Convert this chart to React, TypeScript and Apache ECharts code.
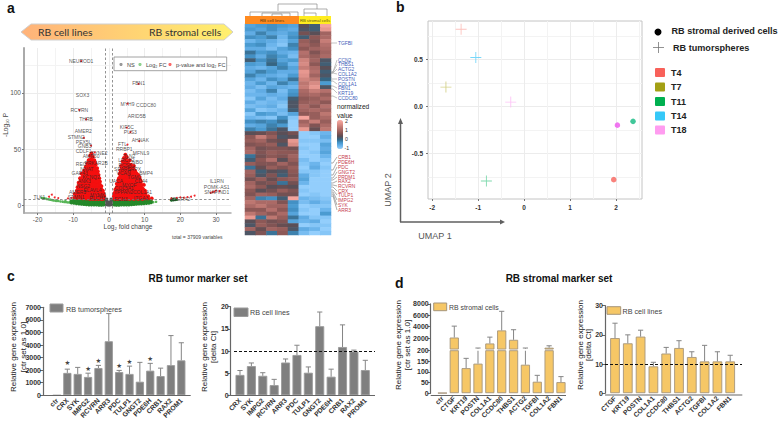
import React, { useEffect, useRef } from "react";
import * as echarts from "echarts";

const FONT = "Liberation Sans";

// ---------- panel a: volcano ----------
const redLeftColumns: [number, number[]][] = [
  [-1.3, [6, 7.5, 9]], [-1.7, [5.5, 7, 9, 11, 13]], [-2.1, [5.5, 7.5, 9.5, 12, 14, 17]],
  [-2.5, [6, 8, 10, 12.5, 15, 18, 21]], [-2.9, [5.5, 7, 9, 11, 13, 16, 19, 23, 27]],
  [-3.3, [6, 8, 10, 12, 14, 17, 20, 24, 29, 33]], [-3.7, [5.5, 7.5, 9.5, 11.5, 14, 16, 19, 22, 26, 31, 36]],
  [-4.1, [6, 8, 10, 12, 14, 17, 20, 23, 27, 30, 35, 40]], [-4.5, [5.5, 7, 9, 11, 13, 15, 18, 21, 24, 28, 33, 38, 43]],
  [-4.9, [6, 8, 10, 12, 14, 16, 19, 22, 26, 30, 35, 41, 46]], [-5.3, [5.5, 7.5, 9.5, 11.5, 14, 17, 20, 24, 28, 32, 37, 44]],
  [-5.7, [6, 8, 10, 12, 15, 18, 21, 25, 29, 34, 40]], [-6.1, [6, 7.5, 9.5, 12, 15, 18, 22, 26, 31, 37]],
  [-6.5, [6, 8, 10, 13, 16, 20, 24, 28, 34]], [-6.9, [6.5, 9, 12, 15, 18, 23, 27, 31]],
  [-7.3, [6, 8.5, 11, 14, 18, 22, 26]], [-7.7, [7, 10, 13, 17, 21, 28]], [-8.1, [6.5, 9, 12, 16, 24]],
  [-8.5, [7, 11, 15, 20]], [-9, [6.5, 9, 13]], [-9.6, [7, 10]],
];
const redLeftFill: [number, number[]][] = [
  [-1.5, [6.5, 8.5, 10.5]], [-1.9, [6.2, 8.2, 10.4, 12.6]], [-2.3, [6.8, 8.8, 11, 13.2, 15.8]], [-2.7, [6.4, 8.6, 11, 13.6, 16.5, 19.5, 24]],
  [-3.1, [6.6, 8.8, 11, 13.4, 15.6, 18, 21.5, 25.6, 30]], [-3.5, [6.4, 8.6, 10.8, 13, 15.4, 18, 21.2, 24.6, 28, 32]], [-3.9, [6.8, 8.9, 11, 13, 15.2, 17.8, 20.6, 24, 28.4, 33, 38]],
  [-4.3, [6.6, 8.8, 11, 13, 15.6, 18.4, 21.4, 25, 28.6, 32, 36.5]], [-4.7, [6.4, 8.6, 10.8, 13.2, 15.8, 18.6, 21.6, 25, 28, 31.4, 35.6, 40]], [-5.1, [6.8, 9, 11, 13.2, 15.4, 18, 21.4, 25.4, 28.4, 32, 38.6]],
  [-5.5, [6.6, 8.8, 11, 13.4, 16, 19, 22, 26, 30, 34.6, 40]], [-5.9, [6.4, 8.8, 11.2, 13.8, 16.5, 19.6, 23, 27, 31.6, 36.6]], [-6.3, [6.8, 9, 11.4, 14, 17, 20.4, 24, 28.6, 33.6]],
  [-6.7, [6.6, 9.2, 11.8, 14.6, 18, 22, 26, 30.6]], [-7.1, [7, 9.8, 12.6, 16, 20, 25, 29]], [-7.5, [6.8, 9.6, 12.4, 16, 20, 24]], [-7.9, [7.2, 10.4, 14, 18, 22.6]], [-8.3, [7, 10, 13.6, 18]], [-8.8, [7.4, 10.6, 16]],
];
const redRightColumns: [number, number[]][] = [
  [1.4, [6, 8, 10]], [1.8, [5.5, 7, 9, 12, 14]], [2.2, [6, 8, 10, 13, 16, 19]],
  [2.6, [5.5, 7.5, 10, 12, 15, 18, 22]], [3, [6, 8, 10, 13, 16, 19, 23, 28]],
  [3.4, [5.5, 7.5, 9.5, 12, 15, 18, 21, 25, 30, 35]], [3.8, [6, 8, 10, 12, 15, 18, 21, 25, 29, 34, 39]],
  [4.2, [5.5, 7, 9, 12, 14, 17, 20, 24, 28, 32, 37, 42]], [4.6, [6, 8, 10, 12, 15, 18, 21, 24, 28, 33, 38, 45]],
  [5, [5.5, 7.5, 9.5, 12, 14, 17, 20, 23, 27, 31, 36, 43]], [5.4, [6, 8, 10, 12, 15, 18, 21, 25, 29, 34, 39]],
  [5.8, [5.5, 7.5, 9.5, 12, 14, 17, 20, 24, 28, 33, 40]], [6.2, [6, 8, 10, 13, 16, 19, 23, 27, 32, 36]],
  [6.6, [6, 8, 10, 13, 16, 19, 23, 27, 31]], [7, [5.5, 8, 11, 14, 17, 20, 24, 29, 35]],
  [7.4, [6, 8.5, 11, 14, 17, 21, 26, 30]], [7.8, [6, 8.5, 11, 15, 18, 23, 28]],
  [8.2, [5.5, 8, 11, 14, 18, 22, 27]], [8.6, [6, 9, 12, 16, 20, 25]], [9, [6, 8.5, 12, 16, 21]],
  [9.4, [5.5, 8, 11, 15]], [9.8, [6, 9, 12, 18]], [10.3, [6, 8, 11]], [11, [6, 8]], [12, [6]],
];
const redRightFill: [number, number[]][] = [
  [1.6, [6.6, 8.4, 10.6]], [2, [6.4, 8.6, 11, 13.4]], [2.4, [6.8, 9, 11.4, 14, 16.8]], [2.8, [6.6, 9, 11.2, 13.8, 16.6, 20, 24]],
  [3.2, [6.4, 8.8, 11, 13.6, 16.4, 19, 22, 26, 31]], [3.6, [6.8, 9, 11, 13.4, 16, 19, 22.4, 26, 30, 33.6]], [4, [6.6, 8.8, 11, 13.2, 15.8, 18.6, 22, 25.4, 29, 33, 37]],
  [4.4, [6.4, 8.6, 11, 13.4, 16, 19, 22, 26, 29.6, 34, 39]], [4.8, [6.8, 9, 11, 13.4, 16.2, 19.4, 22.6, 26, 30, 35, 41]], [5.2, [6.6, 8.8, 11, 13.2, 16, 19, 22, 25.4, 29, 33, 38]],
  [5.6, [6.4, 8.8, 11, 13.6, 16.4, 19.6, 23, 27, 31, 36]], [6, [6.8, 9, 11, 13.4, 16, 19, 22.4, 26, 30, 34.6]], [6.4, [6.6, 9, 11.6, 14.4, 17.6, 21, 25, 29.4, 33.6]], [6.8, [6.8, 9.2, 11.8, 14.8, 18, 21.6, 25, 29, 33]],
  [7.2, [6.6, 9.6, 12.6, 15.6, 18.6, 22, 26, 31]], [7.6, [7, 9.8, 12.6, 16, 19.6, 24, 28]], [8, [6.8, 9.6, 12.6, 16, 20, 25]], [8.4, [7, 9.6, 12.6, 16, 20, 24.6]], [8.8, [7, 10, 13.6, 18, 22.6]], [9.2, [6.8, 10, 13.6, 18]], [9.6, [7, 10.6, 14]], [10.1, [7, 9.6, 13]],
];
const redSparse: number[][] = [
  [-7.8, 128.3], [-8.3, 84.8], [-6.4, 76.5], [5, 69], [6, 65], [5.2, 90.4], [8.3, 108], [-7, 60], [5.2, 54], [8.5, 57], [-5, 53], [-4, 47],
  [-10.5, 6.5], [-11.5, 6], [-14.2, 6.3], [-15.2, 7], [-16, 9.3], [-16.8, 7.5],
  [17.5, 6], [19, 6.5], [20, 7], [21, 6.6], [22, 7.2], [23, 7.5], [24, 8.5], [28.5, 11], [29, 11.5], [29.5, 12], [30, 13], [31, 12.5],
];
const greenColumns: [number, number[]][] = [
  [-10.5, [2.2, 3.5]], [-9.8, [2, 3.5, 4.8]], [-9.1, [1.6, 3, 4.5]], [-8.4, [1.4, 2.8, 4.4]], [-7.7, [1, 2.5, 4.2]],
  [-7, [0.9, 2.4, 4]], [-6.3, [0.6, 2, 3.6, 4.8]], [-5.6, [0.5, 2, 3.5, 4.8]], [-4.9, [0.4, 1.9, 3.4, 4.8]],
  [-4.2, [0.3, 1.8, 3.3, 4.8]], [-3.5, [0.3, 1.8, 3.3, 4.8]], [-2.8, [0.2, 1.7, 3.2, 4.8]], [-2.1, [0.2, 1.7, 3.2, 4.8]],
  [-1.5, [0.3, 1.8, 3.3, 4.8]], [1.5, [0.3, 1.8, 3.3, 4.8]], [2.1, [0.2, 1.7, 3.2, 4.8]], [2.8, [0.2, 1.7, 3.2, 4.8]],
  [3.5, [0.3, 1.8, 3.3, 4.8]], [4.2, [0.3, 1.8, 3.3, 4.8]], [4.9, [0.4, 1.9, 3.4, 4.8]], [5.6, [0.5, 2, 3.5, 4.8]],
  [6.3, [0.6, 2, 3.6, 4.8]], [7, [0.8, 2.3, 3.9, 4.8]], [7.7, [1, 2.5, 4.2]], [8.4, [1.2, 2.7, 4.4]], [9.1, [1.4, 2.9, 4.5]],
  [9.8, [1.6, 3, 4.6]], [10.5, [1.8, 3.2, 4.6]], [11.2, [2, 3.4, 4.6]], [11.8, [2.4, 3.8]],
];
const greenTail: number[][] = [
  [-18.8, 6.4], [-18.4, 6.2], [-18, 6], [-17.5, 5.6], [-17, 5.2], [-16.6, 5], [-16.3, 4.8], [-15.9, 4.5], [-15.5, 4.3], [-15, 3.9], [-14.6, 3.8], [-14.2, 3.7], [-13.6, 3.3],
  [-13, 3.1], [-12.5, 2.8], [-12, 2.7], [-11.5, 2.5], [-11, 2.3], [-10.8, 3.4], [-12.2, 3.6], [12.4, 2.6], [13.2, 3], [-7, 5],
];
const greenDark: number[][] = [[17.5, 4.4], [18, 4.6], [18.5, 4.9], [19, 5], [17.9, 5.2]];
const grayColumns: [number, number[]][] = [
  [-0.9, [0.8, 2.5, 4]], [-0.6, [0.4, 2, 3.6, 5.5]], [-0.3, [0.2, 1.5, 3]], [0, [0.1, 1, 2.2]],
  [0.3, [0.2, 1.5, 3]], [0.6, [0.4, 2, 3.5, 5.5]], [0.9, [0.8, 2.5, 4, 4.8]],
];
const volcanoLabels: [string, number, number][] = [
  ["NEUROD1", -7.8, 128.3], ["FBN1", 8.3, 108.6], ["SOX3", -7.4, 98], ["RCVRN", -8.3, 84.8], ["MYH9", 5.2, 90.4], ["CCDC80", 10.4, 89.6],
  ["THRB", -6.4, 76.5], ["ARID5B", 7.8, 79.5], ["AMER2", -7.2, 66], ["KIF5C", 5, 69.4], ["PUS3", 6, 65], ["STMN2", -9.2, 60.7],
  ["AHNAK", 8.8, 58], ["PEX5L", -7.1, 56], ["GNB3", -6.8, 52.7], ["FTL", 3.8, 54.5], ["RRBP1", 4.3, 49.7], ["CDLF1", -7.1, 48.2],
  ["SYNE2", -2.7, 46.7], ["AMN50", -5, 43.8], ["MFNL9", 9, 46.7], ["TLN2", 5.7, 43.8], ["LRCH2", 4.9, 40], ["NBO", 8, 38.7],
  ["PCSK1", 5, 35.7], ["REC", -7.8, 36.3], ["PRKAR2B", -3.6, 37.8], ["NNAT", -6.2, 32], ["GAP43", -8.2, 28.3], ["KCNQ2", -5, 25.3],
  ["ANK3", -6.9, 21.7], ["NSG2", -7.2, 17], ["ELAVL4", -4.6, 13.4], ["AMER3", -8.8, 11.9], ["STMN1", -9.2, 6.9], ["MYMK", -3.2, 8.9],
  ["RLCH5", -3.2, 6.3], ["SPARC", 3.8, 31.9], ["SRPX", 7.1, 31.9], ["VCAN", 4.1, 28.3], ["BMP4", 10.4, 28.3], ["TGM2", 7.1, 25.3],
  ["UACA", 2, 21.4], ["CD44", 9, 21.4], ["MYOF", 5.7, 17.9], ["COL5A1", 4.3, 14.9], ["TPPAN2", 4.1, 11.3], ["COL1A1", 9.4, 11.9],
  ["FCN3", 3.4, 5.4], ["ITGA3", 9, 6.3], ["IL1RN", 30.2, 21.4], ["POMK-AS1", 30.2, 15.8], ["SNAPIND1", 30.2, 11.3], ["ADGRA2", 19.9, 5.4], ["TLK1", -19.5, 7.4],
];

// ---------- panel a: heatmap ----------
const heatRows: number[][] = [
  [-0.5, -0.4, -0.3, -0.4, -0.5, 0.3, 0.1, 1.9], [-0.4, -0.5, -0.3, -0.5, -0.6, 0.2, 0.1, 1.7], [-0.6, -0.2, -0.5, -0.6, -0.4, 0.5, 0.3, 0.9],
  [-0.3, -0.4, -0.2, -0.7, -0.3, 0.1, 0.7, 1.0], [-0.7, -0.5, -0.6, -0.8, -0.5, 0.8, 0.6, 1.3], [-0.4, -0.3, -0.7, -0.9, -0.2, 0.9, 0.7, 1.1],
  [-0.6, -0.6, -0.8, -0.5, -0.3, 0.7, 0.9, 1.0], [-0.1, -0.4, -0.3, -0.6, -0.7, 1.1, 0.6, 0.9], [-0.3, -0.6, -0.2, -0.4, -0.8, 1.0, 0.8, 1.0],
  [0.1, -0.3, -0.1, -0.5, -0.4, 1.4, 0.9, 0.2], [-0.4, -0.5, 0, -0.3, -0.7, 1.5, 0.7, 0.1], [-0.6, -0.7, -0.5, -0.2, -0.5, 1.3, 1.0, 0.3],
  [-0.5, -0.2, -0.4, -0.6, -0.6, 1.7, 1.1, 0.1], [-0.2, -0.5, -0.6, -0.7, -0.4, 1.6, 0.9, 0.2], [-0.5, -0.7, -0.3, -0.5, -0.1, 1.4, 1.2, 0.0],
  [-0.7, -0.4, -0.7, -0.2, -0.5, 1.2, 1.5, -0.4], [-0.6, -0.8, -0.5, -0.6, -0.7, 1.3, 1.7, 0.2], [-0.8, -0.6, -0.2, -0.8, -0.4, 1.0, 1.3, 1.1],
  [-0.7, -0.7, -0.6, -0.7, -0.3, 0.9, 1.0, 0.8], [-0.9, -0.5, -0.8, -0.6, 0.1, 0.7, 0.8, 1.0], [-0.6, -0.8, -0.7, -0.8, 0.2, 0.8, 0.9, 0.7],
  [-0.8, -0.7, -0.6, -0.9, 0.2, 1.0, 0.7, 1.1], [-0.5, -0.9, -0.8, -0.7, 0.1, 0.9, 1.0, 0.9], [-0.9, -0.4, -0.5, -0.8, -0.5, 0.7, 0.8, 1.2],
  [-0.7, -0.8, -0.9, -0.3, -0.9, 1.9, 0.8, 1.0], [-0.3, -0.2, -0.3, -0.1, -1.0, 0.9, 1.3, 0.8], [-0.6, -0.5, -0.2, -0.4, -1.0, 1.1, 0.6, 1.0],
  [-0.2, -0.4, -0.1, 0.2, -1.0, 1.7, 0.4, 1.2],
  [0.3, 0.4, 0.6, 0.3, 0.5, -1, -0.9, -0.7], [0.7, 1.3, 0.8, 0.2, 0.3, -1, -1, -0.6], [0.8, 0.9, 0.5, 0.4, 1.7, -0.9, -0.9, -0.8],
  [0.6, 0.7, 0.8, 0.2, 1.5, -1, -1, -0.5], [0.9, 0.5, 0.6, 0.6, 0.5, -0.9, -1, -0.6], [1.0, 0.6, 0.8, 0.7, 0.7, -1, -0.9, -0.5],
  [-0.1, 0.5, 0.7, 0.6, 0.9, -1, -1, -0.7], [0.1, 0.7, 1.1, 0.3, 0.8, -0.8, -1, -0.9], [0.8, 0.6, 0.6, 0.9, 0.6, -0.9, -0.7, -1],
  [-0.1, 0.4, 0.8, 0.6, 0.8, -1, -0.6, -0.9], [0.9, 0.1, 0.3, 0.2, 0.7, -0.9, -0.9, -1], [0.8, 0.2, 0.6, 0.1, 0.6, -0.6, -0.9, -1],
  [0.5, 0.8, 0.4, 0.7, 0.8, -0.5, -1, -1], [0.9, 0.5, 0.6, -0.1, 0.5, -0.7, -1, -1], [1.0, 0.7, 0.3, 0.4, 0.3, -1, -1, -1],
  [0.7, 0.3, 0.5, 0.8, 0.6, -0.9, -1, -1], [0.6, 0.9, 0.8, 0.5, 0.5, -1, -0.9, -1], [0.9, -0.2, -0.3, 0.1, 1.9, -0.7, -0.8, -0.9],
  [1.2, 1.0, 1.0, 0.6, -0.3, -0.8, -0.6, -0.8], [1.0, 1.2, 0.9, 0.9, -0.4, -1, -0.9, -0.9], [0.7, 0.7, 1.1, 0.7, -0.3, -0.9, -1, -0.7],
  [1.2, 0.9, 0.7, 1.0, -0.5, -1, -1, -0.4], [1.7, -0.1, 1.2, 0.8, -0.1, -0.6, -0.9, -0.9], [0.3, 0.7, 0.5, 0.6, -0.5, -0.7, -0.6, -1],
  [0.2, 0.8, 0.6, 0.4, 0.3, -1, -0.9, -0.9], [0.9, 0.4, 0.9, 0.8, 0.2, -0.6, -0.7, -1], [0.2, 0.6, -0.1, 0.7, -0.2, -0.8, -1, -0.9],
];
const heatColors = ["#93cefc", "#68b2ea", "#4495cb", "#366582", "#5e4c52", "#8a5654", "#ab6a66", "#c97f79", "#e5968e", "#fbaaa3"];
const stromalGenes: [string, number, number][] = [
  ["TGFBI", 43, 43], ["CCN2", 60, 72], ["THBS1", 64.5, 72], ["ACTG2", 69, 73], ["COL1A2", 74, 73], ["POSTN", 79, 79],
  ["COL1A1", 84, 81], ["FBN1", 88, 86], ["KRT19", 93, 89], ["CCDC80", 98, 96],
];
const tumorGenes: [string, number, number][] = [
  ["CRB1", 157, 163], ["PDE6H", 162, 170], ["PDC", 167, 175], ["GNGT2", 172, 178], ["PRDM1", 177, 180], ["RAX2", 181, 183],
  ["RCVRN", 186, 185], ["CRX", 191, 187], ["TULP1", 195, 190], ["IMPG2", 200, 192], ["SYK", 205, 194], ["ARR3", 210, 196],
];
const dendroLines: number[][][] = [
  [[278, 11], [278, 4], [317, 4], [317, 9]],
  [[250, 16], [250, 12], [298, 12], [298, 16]],
  [[262, 16], [262, 13], [290, 13], [290, 16]],
  [[272, 16], [272, 14], [282, 14], [282, 16]],
  [[304, 16], [304, 9], [327, 9], [327, 16]],
  [[304, 13], [316, 13], [316, 16]],
];

// ---------- panel b: UMAP ----------
const sampleNames = ["T4", "T7", "T11", "T14", "T18"];
const sampleColors = ["#f8615a", "#a3a015", "#00b050", "#35c8f8", "#ff9cf0"];
const crossColors = ["#fbb3ad", "#c9c76e", "#5fd09a", "#55cdf8", "#fdb4f4"];
const tumorspherePoints: (number[])[] = [[-1.37, 0.82], [-1.7, 0.205], [-0.82, -0.795], [-1.05, 0.52], [-0.29, 0.045]];
const stromalPoints: (number[] | null)[] = [[1.95, -0.78], null, [2.37, -0.16], null, [2.03, -0.2]];

// ---------- panels c, d ----------
const tumorCatsA = ["ctr", "CRX", "SYK", "IMPG2", "RCVRN", "ARR3", "PDC", "TULP1", "GNGT2", "PDE6H", "CRB1", "RAX2", "PROM1"];
const tumorValsA = [1, 1780, 1700, 1460, 2170, 4300, 1850, 1700, 1080, 1960, 1530, 2400, 2780];
const tumorErrA = [null, 2080, 2220, 1760, 2380, 6500, 1980, 2320, 2620, 2540, 2160, 4750, 4180];
const tumorStars: [string, number][] = [["CRX", 2570], ["IMPG2", 2120], ["RCVRN", 2730], ["PDC", 2360], ["TULP1", 2650], ["PDE6H", 2910]];

const tumorCatsB = ["CRX", "SYK", "IMPG2", "RCVRN", "ARR3", "PDC", "TULP1", "GNGT2", "PDE6H", "CRB1", "RAX2", "PROM1"];
const tumorValsB = [4.6, 6.6, 4.4, 2.3, 7.4, 9.1, 5.1, 15.6, 4.2, 10.9, 9.9, 5.7];
const tumorErrB = [5.6, 7.3, 5.1, 3.6, 8.2, 11.3, 6.4, 18.8, 5.9, 15.9, 10.2, 7.9];

const stromalCatsA = ["ctr", "CTGF", "KRT19", "POSTN", "COL1A1", "CCDC80", "THBS1", "ACTG2", "TGFBI", "COL1A2", "FBN1"];
const stromalValsA = [1, 2100, 118, 139, 1060, 3350, 1700, 134, 54, 320, 52];
const stromalErrA = [null, 4100, 164, 260, 2170, 6700, 3470, 260, 84, 650, 78];

const stromalCatsB = ["CTGF", "KRT19", "POSTN", "COL1A1", "CCDC80", "THBS1", "ACTG2", "TGFBI", "COL1A2", "FBN1"];
const stromalValsB = [18.9, 17.1, 19.4, 9.2, 13.6, 15.5, 12.4, 10.9, 10.9, 10.9];
const stromalErrB = [24, 20, 21.6, 10.6, 15.7, 18, 14.2, 16.4, 14.2, 13];
const deltaCtReference = 10;
const breakValue = 200;

const GRAY_FILL = "#7f7f7f";
const GRAY_EDGE = "#9b9b9b";
const GOLD_FILL = "#f6c766";
const GOLD_EDGE = "#a6957a";

const flatten = (cols: [number, number[]][]) => cols.flatMap(([x, ys]) => ys.map((y) => [x, y]));

function txt(text: string, x: number, y: number, o: any = {}) {
  return {
    type: "text", x, y, rotation: o.rotation ?? 0, silent: true, z: o.z ?? 20,
    style: {
      text, x: 0, y: 0, fontSize: o.size ?? 7, fontFamily: o.family ?? FONT, fontWeight: o.weight ?? "normal",
      fill: o.color ?? "#222", align: o.align ?? "left", verticalAlign: "middle",
    },
  };
}
const seg = (x1: number, y1: number, x2: number, y2: number, stroke: string, lineWidth = 1, z = 20) => ({
  type: "line", silent: true, z, shape: { x1, y1, x2, y2 }, style: { stroke, lineWidth },
});
const poly = (pts: number[][], stroke: string, lineWidth = 0.7) => ({
  type: "polyline", silent: true, z: 20, shape: { points: pts }, style: { stroke, lineWidth, fill: "none" },
});
const swatch = (x: number, y: number, w: number, h: number, fill: string, stroke = "none", r = 0) => ({
  type: "rect", silent: true, z: 20, shape: { x, y, width: w, height: h, r }, style: { fill, stroke, lineWidth: 1 },
});

function errorSeries(xi: number, yi: number, cats: string[], vals: number[], errs: (number | null)[], minHi = -Infinity) {
  const rows: number[][] = [];
  cats.forEach((_, i) => {
    const e = errs[i];
    if (e !== null && e > minHi) rows.push([i, vals[i], e]);
  });
  return {
    type: "custom", xAxisIndex: xi, yAxisIndex: yi, clip: true, z: 4, silent: true, data: rows, encode: { x: 0, y: [1, 2] },
    renderItem: (_: any, api: any) => {
      const i = api.value(0);
      const lo = api.coord([i, api.value(1)]);
      const hi = api.coord([i, api.value(2)]);
      const style = { stroke: "#858585", lineWidth: 1 };
      return {
        type: "group",
        children: [
          { type: "line", shape: { x1: lo[0], y1: lo[1], x2: hi[0], y2: hi[1] }, style },
          { type: "line", shape: { x1: hi[0] - 2.6, y1: hi[1], x2: hi[0] + 2.6, y2: hi[1] }, style },
        ],
      };
    },
  };
}

function barSeries(xi: number, yi: number, vals: (number | null)[], w: number, fill: string, edge: string, extra: any = {}) {
  return {
    type: "bar", xAxisIndex: xi, yAxisIndex: yi, data: vals, barWidth: w, z: 3, silent: true,
    itemStyle: { color: fill, borderColor: edge, borderWidth: 0.9 }, ...extra,
  };
}
const refLine = (value: number, x1: number, x2: number) => ({
  silent: true, symbol: "none", animation: false, label: { show: false },
  lineStyle: { color: "#111", type: [3, 2], width: 1 },
  data: [[{ x: x1, yAxis: value }, { x: x2, yAxis: value }]],
});
const barX = (grid: number, cats: string[], show = true) => ({
  type: "category", gridIndex: grid, data: cats, show, boundaryGap: true,
  axisLine: { show: false }, axisTick: { show: false },
  axisLabel: { rotate: 45, interval: 0, margin: 4, fontSize: 6.8, fontWeight: "bold", color: "#333", fontFamily: FONT },
});
const barY = (grid: number, min: number, max: number, values: number[], offset: number) => ({
  type: "value", gridIndex: grid, min, max, offset,
  axisLine: { show: true, lineStyle: { color: "#666", width: 1.2 } },
  axisTick: { show: true, length: 3, customValues: values, lineStyle: { color: "#666", width: 1 } },
  axisLabel: {
    customValues: values, margin: 2, fontSize: 7, fontWeight: "bold", color: "#333", fontFamily: FONT,
    formatter: (v: number) => String(v),
  },
  splitLine: { show: false },
});

const volcanoMajorX = [-20, -10, 0, 10, 20, 30];
const volcanoMinorX = [-15, -5, 5, 15, 25];
const volcanoMajorY = [0, 50, 100];
const volcanoMinorY = [25, 75, 125];
const umapMajorX = [-2, -1, 0, 1, 2];
const umapMinorX = [-1.5, -0.5, 0.5, 1.5, 2.5];
const umapMajorY = [-0.5, 0, 0.5];
const umapMinorY = [-0.75, -0.25, 0.25, 0.75];

function buildOption() {
  const grids = [
    { left: 24, top: 48, width: 207, height: 165 },
    { left: 245, top: 24, width: 86, height: 211 },
    { left: 428, top: 21, width: 214, height: 178, show: true, borderColor: "#c4c4c4", borderWidth: 1, backgroundColor: "#fff" },
    { left: 51.8, top: 307.3, width: 134.7, height: 88 },
    { left: 234.3, top: 306.7, width: 136.7, height: 88.6 },
    { left: 436.5, top: 303.9, width: 130.4, height: 45.6 },
    { left: 436.5, top: 350.7, width: 130.4, height: 44.6 },
    { left: 608.6, top: 305.7, width: 128, height: 89 },
  ];
  const gLight = { show: true, lineStyle: { color: "#ececec", width: 1 } };
  const gFaint = { show: true, lineStyle: { color: "#f3f3f3", width: 1 } };
  const volcLabel = { fontSize: 6.5, color: "#555", fontFamily: FONT, margin: 3 };
  const umapLabel = { fontSize: 6.5, color: "#333", fontWeight: "bold", fontFamily: FONT, margin: 5 };
  const xAxis: any[] = [
    {
      type: "value", gridIndex: 0, min: -23.8, max: 34.2,
      axisLine: { show: true, onZero: false, lineStyle: { color: "#aaa", width: 1.5 } },
      axisTick: { show: true, length: 2, customValues: volcanoMajorX, lineStyle: { color: "#777" } },
      axisLabel: { ...volcLabel, customValues: volcanoMajorX }, splitLine: gLight,
    },
    {
      type: "value", gridIndex: 0, min: -23.8, max: 34.2, axisLine: { show: false },
      axisTick: { show: false, customValues: volcanoMinorX }, axisLabel: { show: false, customValues: volcanoMinorX }, splitLine: gFaint,
    },
    { type: "category", gridIndex: 1, data: heatRows[0].map((_, i) => "S" + i), show: false },
    {
      type: "value", gridIndex: 2, min: -2.09, max: 2.565,
      axisLine: { show: false, onZero: false },
      axisTick: { show: true, length: 2, customValues: umapMajorX, lineStyle: { color: "#777" } },
      axisLabel: { ...umapLabel, customValues: umapMajorX }, splitLine: gLight,
    },
    {
      type: "value", gridIndex: 2, min: -2.09, max: 2.565, axisLine: { show: false },
      axisTick: { show: false, customValues: umapMinorX }, axisLabel: { show: false, customValues: umapMinorX }, splitLine: gFaint,
    },
    barX(3, tumorCatsA),
    barX(4, tumorCatsB),
    barX(5, stromalCatsA, false),
    barX(6, stromalCatsA),
    barX(7, stromalCatsB),
  ];
  const yAxis: any[] = [
    {
      type: "value", gridIndex: 0, min: -7, max: 140,
      axisLine: { show: true, onZero: false, lineStyle: { color: "#aaa", width: 2 } },
      axisTick: { show: true, length: 2, customValues: volcanoMajorY, lineStyle: { color: "#777" } },
      axisLabel: { ...volcLabel, customValues: volcanoMajorY }, splitLine: gLight,
    },
    {
      type: "value", gridIndex: 0, min: -7, max: 140, axisLine: { show: false },
      axisTick: { show: false, customValues: volcanoMinorY }, axisLabel: { show: false, customValues: volcanoMinorY }, splitLine: gFaint,
    },
    { type: "category", gridIndex: 1, inverse: true, data: heatRows.map((_, i) => "G" + i), show: false },
    {
      type: "value", gridIndex: 2, min: -0.986, max: 0.908,
      axisLine: { show: false, onZero: false },
      axisTick: { show: true, length: 2, customValues: umapMajorY, lineStyle: { color: "#777" } },
      axisLabel: { ...umapLabel, customValues: umapMajorY, formatter: (v: number) => v.toFixed(1) }, splitLine: gLight,
    },
    {
      type: "value", gridIndex: 2, min: -0.986, max: 0.908, axisLine: { show: false },
      axisTick: { show: false, customValues: umapMinorY }, axisLabel: { show: false, customValues: umapMinorY }, splitLine: gFaint,
    },
    barY(3, 0, 7000, [0, 1000, 2000, 3000, 4000, 5000, 6000, 7000], 8.8),
    barY(4, 0, 20, [0, 5, 10, 15, 20], 3.6),
    barY(5, 0, 8000, [2000, 4000, 6000, 8000], 5.8),
    barY(6, 0, breakValue, [0, 50, 100, 150, 200], 5.8),
    barY(7, 0, 30, [0, 10, 20, 30], 3.6),
  ];

  const scatter = (data: number[][], color: string, size: number, z: number, opacity = 1) => ({
    type: "scatter", xAxisIndex: 0, yAxisIndex: 0, data, symbolSize: size, z, silent: true, itemStyle: { color, opacity },
  });
  const heatData: number[][] = [];
  heatRows.forEach((row, r) => row.forEach((v, c) => heatData.push([c, r, v])));
  const crossPath = "path://M4.6 0h.8v4.6H10v.8H5.4V10h-.8V5.4H0v-.8h4.6z";

  const series: any[] = [
    scatter(flatten(grayColumns), "#555", 3, 3),
    scatter(greenTail, "#58b558", 2.6, 3),
    scatter(greenDark, "#1f6b2a", 3, 3),
    scatter(flatten(greenColumns), "#25882a", 3.6, 3),
    scatter([...flatten(redLeftColumns), ...flatten(redLeftFill), ...flatten(redRightColumns), ...flatten(redRightFill)], "#f50f0f", 3.8, 4),
    scatter(redSparse, "#f2282c", 2, 4),
    {
      type: "scatter", xAxisIndex: 0, yAxisIndex: 0, symbolSize: 0, z: 6, silent: true,
      data: volcanoLabels.map(([n, x, y]) => ({ name: n, value: [x, y] })),
      label: { show: true, position: "inside", formatter: "{b}", fontSize: 5, color: "#2b2b2b", fontFamily: FONT },
      labelLayout: { hideOverlap: false },
    },
    {
      type: "line", xAxisIndex: 0, yAxisIndex: 0, data: [], z: 5, silent: true,
      markLine: {
        silent: true, symbol: "none", animation: false, label: { show: false },
        lineStyle: { color: "#777", type: [2.5, 2], width: 0.8 },
        data: [{ xAxis: -1 }, { xAxis: 1 }, { yAxis: 5 }],
      },
    },
    {
      type: "heatmap", xAxisIndex: 2, yAxisIndex: 2, data: heatData, silent: true, itemStyle: { borderWidth: 0 }, progressive: 0,
    },
    ...sampleNames.map((name, i) => ({
      type: "scatter", xAxisIndex: 3, yAxisIndex: 3, name: name + " tumorspheres", symbol: crossPath, symbolSize: 11, silent: true, z: 5,
      itemStyle: { color: crossColors[i] }, data: [tumorspherePoints[i]],
    })),
    ...sampleNames.flatMap((name, i) => {
      const p = stromalPoints[i];
      return p ? [{
        type: "scatter", xAxisIndex: 3, yAxisIndex: 3, name: name + " stromal", symbol: "circle", symbolSize: 5.5, silent: true, z: 5,
        itemStyle: { color: name === "T18" ? "#ee55ee" : name === "T11" ? "#12b981" : sampleColors[i] }, data: [p],
      }] : [];
    }),
    barSeries(5, 5, tumorValsA, 8.2, GRAY_FILL, GRAY_EDGE),
    errorSeries(5, 5, tumorCatsA, tumorValsA, tumorErrA),
    {
      type: "scatter", xAxisIndex: 5, yAxisIndex: 5, symbolSize: 0, silent: true, z: 6, data: tumorStars,
      label: { show: true, position: "inside", formatter: "★", fontSize: 6.5, color: "#111", fontFamily: "DejaVu Sans" },
    },
    barSeries(6, 6, tumorValsB, 9, GRAY_FILL, GRAY_EDGE, { markLine: refLine(deltaCtReference, 234, 375) }),
    errorSeries(6, 6, tumorCatsB, tumorValsB, tumorErrB),
    barSeries(7, 7, stromalValsA.map((v) => (v > breakValue ? v : null)), 9.2, GOLD_FILL, GOLD_EDGE),
    errorSeries(7, 7, stromalCatsA, stromalValsA, stromalErrA, breakValue),
    barSeries(8, 8, stromalValsA, 9.2, GOLD_FILL, GOLD_EDGE),
    errorSeries(8, 8, stromalCatsA, stromalValsA, stromalErrA),
    barSeries(9, 9, stromalValsB, 9.7, GOLD_FILL, GOLD_EDGE, { markLine: refLine(deltaCtReference, 605, 742) }),
    errorSeries(9, 9, stromalCatsB, stromalValsB, stromalErrB),
  ];
  const heatIndex = series.findIndex((s) => s.type === "heatmap");

  const banner = {
    type: "polygon", silent: true, z: 20,
    shape: { points: [[21, 32], [31, 24], [224, 24], [233, 32], [224, 40], [31, 40]] },
    style: {
      stroke: "#cfcfcf", lineWidth: 1,
      fill: new echarts.graphic.LinearGradient(0, 0, 1, 0, [
        { offset: 0, color: "#ffb27a" }, { offset: 1, color: "#fff06e" },
      ]),
    },
  };
  const elements: any[] = [
    txt("a", 7, 8, { size: 14, weight: "bold", color: "#111" }),
    txt("b", 396, 7, { size: 14, weight: "bold", color: "#111" }),
    txt("c", 7, 276, { size: 14, weight: "bold", color: "#111" }),
    txt("d", 395, 283, { size: 14, weight: "bold", color: "#111" }),
    banner,
    txt("RB cell lines", 38, 31.5, { size: 10.4, family: "Lato", color: "#333" }),
    txt("RB stromal cells", 149, 31.5, { size: 10.4, family: "Lato", color: "#333" }),
    { type: "rect", silent: true, z: 18, shape: { x: 114, y: 57, width: 112.7, height: 13.7 }, style: { fill: "#fff", stroke: "#8a8a8a", lineWidth: 0.8 } },
    { type: "circle", silent: true, z: 20, shape: { cx: 121, cy: 64.5, r: 1.6 }, style: { fill: "#9a9a9a" } },
    txt("NS", 127, 65, { size: 5.6, color: "#444" }),
    { type: "circle", silent: true, z: 20, shape: { cx: 140, cy: 64.5, r: 1.6 }, style: { fill: "#8fd18f" } },
    txt("Log₂ FC", 146, 65, { size: 5.6, color: "#444" }),
    { type: "circle", silent: true, z: 20, shape: { cx: 170, cy: 64.5, r: 1.6 }, style: { fill: "#fb6b6b" } },
    txt("p-value and log₂ FC", 176, 65, { size: 5.6, color: "#444" }),
    txt("-Log₁₀ P", 5, 125, { size: 6.5, color: "#444", rotation: Math.PI / 2, align: "center" }),
    txt("Log₂ fold change", 128, 226, { size: 6.5, color: "#444", align: "center" }),
    txt("total = 37909 variables", 172, 237, { size: 5, color: "#444" }),
    swatch(245, 16, 54, 8, "#ff8a1f"),
    swatch(299, 16, 32, 8, "#ffec1f"),
    txt("RB cell lines", 272, 20, { size: 4.4, align: "center", color: "#5a3a10" }),
    txt("RB stromal cells", 315, 20, { size: 4.2, align: "center", color: "#5a5a10" }),
    ...dendroLines.map((p) => poly(p, "#8a8a8a", 0.7)),
    txt("normalized", 337, 106, { size: 6.6, color: "#222" }),
    txt("value", 337, 115, { size: 6.6, color: "#222" }),
    txt("2", 345, 121, { size: 5.2, color: "#333" }),
    txt("1", 345, 130, { size: 5.2, color: "#333" }),
    txt("0", 345, 139, { size: 5.2, color: "#333" }),
    txt("-1", 344.5, 148, { size: 5.2, color: "#333" }),
    ...stromalGenes.flatMap(([g, ly, ry]) => [
      txt(g, 338, ly, { size: 4.9, color: "#3b5bb8" }),
      poly([[331, ry], [333, ry], [337, ly]], "#9a9a9a", 0.6),
    ]),
    ...tumorGenes.flatMap(([g, ly, ry]) => [
      txt(g, 338, ly, { size: 4.9, color: "#c63b4d" }),
      poly([[331, ry], [333, ry], [337, ly]], "#777", 0.6),
    ]),
    seg(400.5, 222, 400.5, 124, "#5f5f5f", 1.5),
    seg(400, 222, 503, 222, "#5f5f5f", 1.5),
    { type: "polygon", silent: true, z: 20, shape: { points: [[400.5, 118], [398, 124], [403, 124]] }, style: { fill: "#5f5f5f" } },
    { type: "polygon", silent: true, z: 20, shape: { points: [[505, 222], [500, 219.5], [500, 224.5]] }, style: { fill: "#5f5f5f" } },
    txt("UMAP 2", 388, 190, { size: 9, color: "#555", rotation: Math.PI / 2, align: "center" }),
    txt("UMAP 1", 435, 235.5, { size: 9, color: "#555", align: "center" }),
    { type: "circle", silent: true, z: 20, shape: { cx: 658, cy: 32, r: 3.5 }, style: { fill: "#000" } },
    seg(653, 47.5, 664, 47.5, "#777", 0.8),
    seg(658.5, 42, 658.5, 53, "#777", 0.8),
    txt("RB stromal derived cells", 671.5, 31, { size: 9.1, weight: "bold", color: "#222" }),
    txt("RB tumorspheres", 673, 48, { size: 9.1, weight: "bold", color: "#222" }),
    ...sampleNames.flatMap((n, i) => {
      const y = [72.5, 87, 101.5, 116, 130][i];
      return [swatch(655, y - 4.5, 10, 9, sampleColors[i], "none", 1), txt(n, 671, y, { size: 9, weight: "bold", color: "#222" })];
    }),
    txt("RB tumor marker set", 198, 278, { size: 10, weight: "bold", align: "center", color: "#111" }),
    txt("RB stromal marker set", 559, 278, { size: 10, weight: "bold", align: "center", color: "#111" }),
    txt("Relative gene expression", 13, 347, { size: 8, rotation: Math.PI / 2, align: "center", color: "#222" }),
    txt("[ctr set as 1.0]", 23, 347, { size: 8, rotation: Math.PI / 2, align: "center", color: "#222" }),
    txt("Relative gene expression", 204, 347, { size: 8, rotation: Math.PI / 2, align: "center", color: "#222" }),
    txt("[delta Ct]", 213, 347, { size: 8, rotation: Math.PI / 2, align: "center", color: "#222" }),
    txt("Relative gene expression", 398, 345, { size: 8, rotation: Math.PI / 2, align: "center", color: "#222" }),
    txt("[ctr set as 1.0]", 407, 345, { size: 8, rotation: Math.PI / 2, align: "center", color: "#222" }),
    txt("Relative gene expression", 580, 345, { size: 8, rotation: Math.PI / 2, align: "center", color: "#222" }),
    txt("[delta Ct]", 588, 345, { size: 8, rotation: Math.PI / 2, align: "center", color: "#222" }),
    seg(43, 395.5, 190.7, 395.5, "#666", 1.2),
    seg(230.7, 395.5, 375, 395.5, "#666", 1.2),
    seg(430.7, 395.5, 566, 395.5, "#666", 1.2),
    seg(605, 395, 742.3, 395, "#666", 1.2),
    swatch(50, 304, 13, 8, GRAY_FILL, GRAY_EDGE),
    txt("RB tumorspheres", 66, 309, { size: 7.2, color: "#444" }),
    swatch(234, 308, 14, 8.5, GRAY_FILL, GRAY_EDGE),
    txt("RB cell lines", 250, 312.5, { size: 7.2, color: "#444" }),
    swatch(433.7, 303, 13, 7.7, GOLD_FILL, GOLD_EDGE),
    txt("RB stromal cells", 449, 307, { size: 6.9, color: "#444" }),
    swatch(607, 306.7, 13.7, 7.6, GOLD_FILL, GOLD_EDGE),
    txt("RB cell lines", 622.5, 311, { size: 7.2, color: "#444" }),
  ];

  return {
    animation: false,
    backgroundColor: "#fff",
    textStyle: { fontFamily: FONT },
    grid: grids,
    xAxis,
    yAxis,
    series,
    visualMap: {
      type: "continuous", seriesIndex: heatIndex, min: -1, max: 2, calculable: false, show: true, showLabel: false, text: ["", ""],
      left: 337, top: 120, itemWidth: 6, itemHeight: 29, padding: 0, hoverLink: false, realtime: false,
      inRange: { color: heatColors }, textStyle: { fontSize: 1 },
    },
    graphic: { elements },
  };
}

export default function App() {
  const ref = useRef<HTMLDivElement>(null);
  useEffect(() => {
    const chart = echarts.init(ref.current!, undefined, { renderer: "svg" });
    chart.setOption(buildOption() as any);
    return () => chart.dispose();
  }, []);
  return <div ref={ref} style={{ position: "absolute", left: 0, top: 0, width: 778, height: 421 }} />;
}
